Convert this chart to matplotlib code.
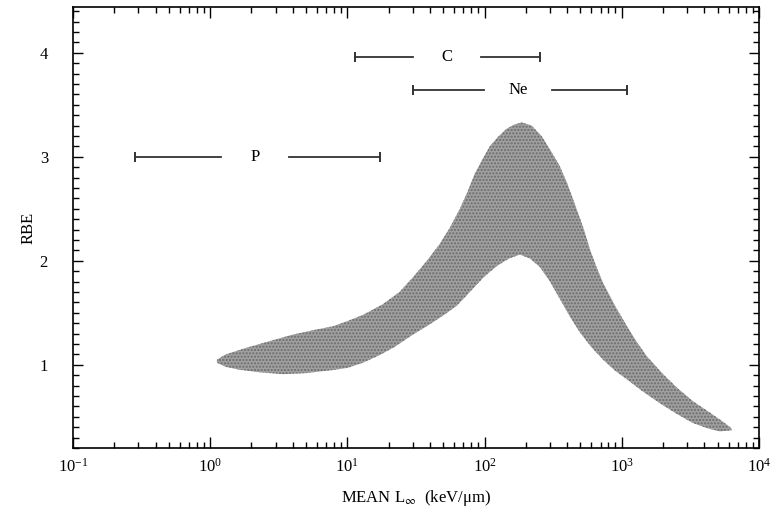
import numpy as np
import matplotlib
matplotlib.use("Agg")
import matplotlib.pyplot as plt
from matplotlib.ticker import MultipleLocator, LogLocator

plt.rcParams['font.family'] = ['Liberation Serif', 'DejaVu Serif']
plt.rcParams['mathtext.fontset'] = 'stix'

# RBE band, upper edge (LET keV/um, RBE)
upper_let = [1.12, 1.3, 1.8, 2.59, 4, 6, 7.85, 10, 13, 18, 24, 30, 38, 47, 56, 66,
             75, 85, 97, 109, 125, 145, 165, 187, 220, 260, 300, 350, 399, 471, 530,
             586, 650, 729, 900, 1091, 1300, 1527, 2000, 2525, 3300, 4395, 5500, 6300]
upper_rbe = [1.05, 1.10, 1.16, 1.22, 1.29, 1.34, 1.37, 1.42, 1.48, 1.58, 1.70, 1.84,
             2.00, 2.16, 2.32, 2.50, 2.66, 2.84, 2.98, 3.10, 3.19, 3.27, 3.31, 3.33,
             3.30, 3.20, 3.07, 2.92, 2.75, 2.49, 2.30, 2.11, 1.95, 1.79, 1.56, 1.37,
             1.21, 1.08, 0.91, 0.78, 0.65, 0.54, 0.45, 0.39]
# lower edge
lower_let = [1.12, 1.3, 1.6, 2.2, 3.4, 5, 7.85, 10, 13, 17, 22, 30, 40, 52, 63, 72,
             82, 100, 123, 150, 181, 215, 253, 300, 355, 420, 496, 600, 729, 900,
             1091, 1400, 1897, 2500, 3303, 4200, 5200, 6300]
lower_rbe = [1.02, 0.98, 0.955, 0.93, 0.91, 0.92, 0.95, 0.97, 1.02, 1.09, 1.17, 1.29,
             1.39, 1.49, 1.57, 1.65, 1.73, 1.85, 1.95, 2.02, 2.06, 2.02, 1.94, 1.80,
             1.63, 1.46, 1.31, 1.17, 1.05, 0.94, 0.86, 0.75, 0.63, 0.53, 0.44, 0.39,
             0.36, 0.37]

# ion LET ranges
ions = ['P', 'C', 'Ne']
ion_lo = [0.283, 11.3, 30]
ion_hi = [17.3, 253, 1092]
ion_mid = [2.12, 53, 175]
ion_rbe = [3.0, 3.96, 3.64]

fig = plt.figure(figsize=(7.83, 5.13), dpi=100)
ax = fig.add_axes([0.0932, 0.1267, 0.8761, 0.8597])

# shaded band
poly_x = upper_let + lower_let[::-1]
poly_y = upper_rbe + lower_rbe[::-1]
ax.fill(poly_x, poly_y, facecolor='#a0a0a0', edgecolor='none', zorder=2)
ax.fill(poly_x, poly_y, facecolor='none', edgecolor='#6a6a6a', hatch='.....',
        linewidth=0, zorder=3)

# range bars with label gaps
gap = 10 ** (34 / 137.2)
for name, lo, hi, mid, r in zip(ions, ion_lo, ion_hi, ion_mid, ion_rbe):
    ax.plot([lo, mid / gap], [r, r], color='#333333', lw=1.3, zorder=4)
    ax.plot([mid * gap, hi], [r, r], color='#333333', lw=1.3, zorder=4)
    ax.plot([lo, hi], [r, r], linestyle='none', marker='|', markersize=7,
            markeredgewidth=1.4, color='#333333', zorder=4)
    ax.text(mid, r, name, ha='center', va='center', fontsize=12, zorder=5)

ax.set_xscale('log')
ax.set_xlim(0.1, 1e4)
ax.set_ylim(0.2, 4.44)
ax.set_yticks([1, 2, 3, 4])
ax.yaxis.set_minor_locator(MultipleLocator(0.1))
ax.xaxis.set_major_locator(LogLocator(base=10, numticks=10))
ax.xaxis.set_minor_locator(LogLocator(base=10, subs=np.arange(2, 10), numticks=20))

ax.tick_params(which='both', direction='in', top=True, right=True, width=1.0,
               labelsize=12)
ax.tick_params(axis='x', which='major', length=8, pad=7)
ax.tick_params(axis='x', which='minor', length=4.5)
ax.tick_params(axis='y', which='major', length=7, pad=18)
ax.tick_params(axis='y', which='minor', length=4.5)
for s in ax.spines.values():
    s.set_linewidth(1.2)

ax.set_xlabel('MEAN L$_{\\infty}$  (keV/\u03bcm)', fontsize=12, labelpad=9)
ax.set_ylabel('RBE', fontsize=12, labelpad=2)

fig.savefig('out.png', dpi=100)
